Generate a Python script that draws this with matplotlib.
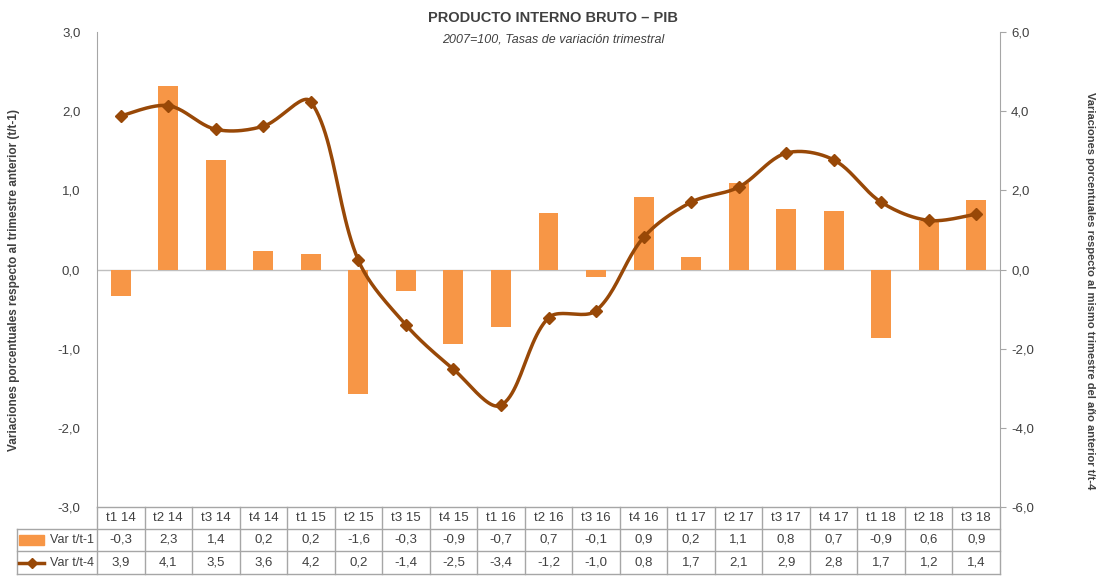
import numpy as np
import matplotlib.pyplot as plt
from matplotlib.lines import Line2D
from matplotlib.patches import Rectangle
import matplotlib.transforms as mtransforms

plt.rcParams['font.family'] = ['Liberation Sans', 'DejaVu Sans']

# data
quarters = ['t1 14', 't2 14', 't3 14', 't4 14', 't1 15', 't2 15', 't3 15', 't4 15',
            't1 16', 't2 16', 't3 16', 't4 16', 't1 17', 't2 17', 't3 17', 't4 17',
            't1 18', 't2 18', 't3 18']
var_t1 = [-0.34, 2.32, 1.38, 0.23, 0.20, -1.57, -0.27, -0.94, -0.72, 0.71,
          -0.10, 0.91, 0.16, 1.09, 0.76, 0.74, -0.86, 0.61, 0.88]
var_t4 = [3.88, 4.14, 3.54, 3.62, 4.24, 0.23, -1.40, -2.52, -3.43, -1.22,
          -1.04, 0.81, 1.70, 2.08, 2.94, 2.77, 1.70, 1.24, 1.40]
names = ['Var t/t-1', 'Var t/t-4']

bar_color = '#F79646'
line_color = '#984807'
grid_color = '#A6A6A6'
text_color = '#404040'
fs = 9


def fmt(v):
    return ('%.1f' % v).replace('.', ',')


# excel-like smoothed curve: bezier segments, control arms weighted by
# segment length measured in pixels (sx, sy = pixels per data unit)
def smooth(x, y, sx, sy, n=25):
    P = np.column_stack([np.asarray(x, float) * sx, np.asarray(y, float) * sy])
    P = np.vstack([P[0], P, P[-1]])
    out = []
    t = np.linspace(0, 1, n)[:, None]
    for i in range(1, len(P) - 2):
        p0, p1, p2, p3 = P[i - 1], P[i], P[i + 1], P[i + 2]
        d01 = np.hypot(*(p1 - p0))
        d12 = np.hypot(*(p2 - p1))
        d23 = np.hypot(*(p3 - p2))
        f1 = d12 / (d01 + d12) / 3 if d01 > 0 else 1 / 6
        f2 = d12 / (d12 + d23) / 3 if d23 > 0 else 1 / 6
        c1 = p1 + (p2 - p0) * f1
        c2 = p2 - (p3 - p1) * f2
        seg = (1 - t) ** 3 * p1 + 3 * (1 - t) ** 2 * t * c1 + 3 * (1 - t) * t ** 2 * c2 + t ** 3 * p2
        out.append(seg)
    out = np.vstack(out)
    return out[:, 0] / sx, out[:, 1] / sy


fig = plt.figure(figsize=(11.06, 5.79), dpi=100)
ax = fig.add_axes([97 / 1106, 1 - 507 / 579, 903 / 1106, 475 / 579])
ax2 = ax.twinx()

x = np.arange(len(quarters))
ax.bar(x, var_t1, width=0.42, color=bar_color, zorder=2)
ax.axhline(0, color='#BFBFBF', lw=1, zorder=1)
ax.set_xlim(-0.5, len(quarters) - 0.5)
ax.set_ylim(-3, 3)
ax.set_yticks(np.arange(-3, 4, 1))
ax.set_yticklabels([fmt(v) for v in np.arange(-3, 4, 1)])
ax.set_xticks([])

cx, cy = smooth(x, var_t4, 903 / 19, 475 / 12)
ax2.plot(cx, cy, color=line_color, lw=2.5, zorder=3)
ax2.plot(x, var_t4, ls='none', marker='D', ms=6, color=line_color, zorder=4)
ax2.set_ylim(-6, 6)
ax2.set_yticks(np.arange(-6, 7, 2))
ax2.set_yticklabels([fmt(v) for v in np.arange(-6, 7, 2)])

for a in (ax, ax2):
    for s in ['top', 'bottom']:
        a.spines[s].set_visible(False)
    a.tick_params(colors=text_color, labelsize=fs + 0.5)
ax.spines['right'].set_visible(False)
ax2.spines['left'].set_visible(False)
ax.spines['left'].set_color(grid_color)
ax2.spines['right'].set_color(grid_color)
ax.tick_params(axis='y', length=0, pad=12)
ax2.tick_params(axis='y', length=4, color=grid_color, pad=4)

ax.set_ylabel('Variaciones porcentuales respecto al trimestre anterior (t/t-1)',
              fontweight='bold', color=text_color, fontsize=8.5)
ax2.set_ylabel('Variaciones porcentuales respecto al mismo trimestre del año anterior t/t-4',
               fontweight='bold', color=text_color, fontsize=8, rotation=270)
ax.yaxis.set_label_coords(-0.085, 0.478)
ax2.yaxis.set_label_coords(1.105, 0.455)

fig.text(0.5, 1 - 18 / 579, 'PRODUCTO INTERNO BRUTO – PIB', ha='center', va='center',
         fontweight='bold', fontsize=10.5, color=text_color)
fig.text(0.5, 1 - 39 / 579, '2007=100, Tasas de variación trimestral', ha='center', va='center',
         style='italic', fontsize=fs, color=text_color)

# data table under the plot
trans = mtransforms.blended_transform_factory(ax.transData, ax.transAxes)
rows = [0, -22 / 475, -44 / 475, -67 / 475]
left = -0.5 - 80 / 47.53
right = len(quarters) - 0.5
kw = dict(transform=trans, clip_on=False, color=grid_color, lw=1)
ax.add_line(Line2D([-0.5, right], [rows[0], rows[0]], **kw))
for r in rows[1:]:
    ax.add_line(Line2D([left, right], [r, r], **kw))
ax.add_line(Line2D([left, left], [rows[1], rows[3]], **kw))
for b in np.arange(-0.5, len(quarters), 1):
    ax.add_line(Line2D([b, b], [rows[0], rows[3]], **kw))

tkw = dict(transform=trans, ha='center', va='center', fontsize=fs + 0.5, color=text_color, clip_on=False)
for i, q in enumerate(quarters):
    ax.text(i, (rows[0] + rows[1]) / 2, q, **tkw)
    ax.text(i, (rows[1] + rows[2]) / 2, fmt(var_t1[i]), **tkw)
    ax.text(i, (rows[2] + rows[3]) / 2, fmt(var_t4[i]), **tkw)

mid1 = (rows[1] + rows[2]) / 2
mid2 = (rows[2] + rows[3]) / 2
lkw = dict(transform=trans, ha='right', va='center', fontsize=fs, color=text_color, clip_on=False)
ax.text(-0.56, mid1, names[0], **lkw)
ax.text(-0.56, mid2, names[1], **lkw)
ax.add_patch(Rectangle((left + 0.05, mid1 - 0.011), 0.52, 0.022,
                       transform=trans, clip_on=False, color=bar_color))
ax.add_line(Line2D([left + 0.05, left + 0.31, left + 0.57], [mid2] * 3, transform=trans,
                   clip_on=False, color=line_color, lw=2.5, marker='D', ms=5, markevery=[1]))

fig.savefig('out.png', dpi=100)
